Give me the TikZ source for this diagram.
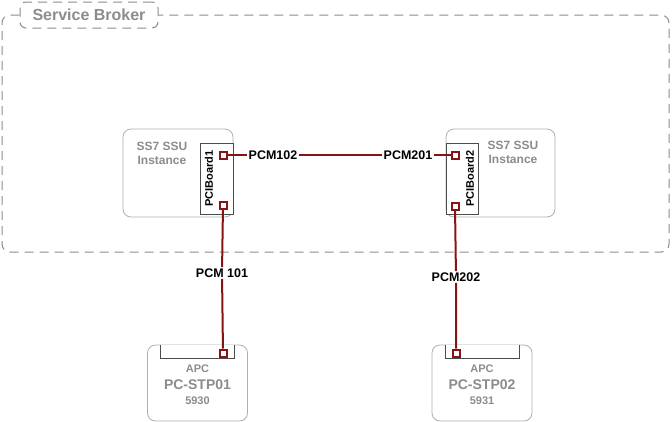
\documentclass[tikz,border=0pt]{standalone}
\usepackage{fontspec}
\setmainfont{Liberation Sans}
\definecolor{pcmred}{RGB}{135,20,20}
\definecolor{boxgray}{RGB}{175,175,175}
\definecolor{txtgray}{RGB}{140,140,140}
\tikzset{
  unit/.style={draw=boxgray,line width=.8pt,rounded corners=8pt,fill=white},
  board/.style={draw=black!70,line width=.8pt,fill=white},
  port/.style={draw=pcmred,line width=2pt,fill=white,minimum size=7pt,inner sep=0pt},
  link/.style={draw=pcmred,line width=2pt},
  pcm/.style={font=\bfseries\fontsize{12.5}{14}\selectfont,inner sep=1pt},
  gtext/.style={text=txtgray,font=\bfseries\fontsize{12}{14}\selectfont,align=center}
}
\begin{document}
\begin{tikzpicture}[x=1pt,y=-1pt,line width=1pt]
\useasboundingbox (0,0) rectangle (672,421);
% service broker frame
\node[draw=txtgray,dashed,dash pattern=on 9pt off 6pt,rounded corners=6pt,minimum width=138pt,minimum height=26pt,text=txtgray,font=\bfseries\fontsize{16}{18}\selectfont] (sb) at (89,15) {Service Broker};
\draw[txtgray,dash pattern=on 9pt off 6pt,rounded corners=8pt] (sb.west) -- (2,15) -- (2,252) -- (669,252) -- (669,15) -- (sb.east);
% SS7 SSU instances
\node[unit,minimum width=110pt,minimum height=88pt] (ssu1) at (178,173) {};
\node[unit,minimum width=109pt,minimum height=88pt] (ssu2) at (500.5,173) {};
\node[gtext] (t1) at (162,153) {SS7 SSU\\Instance};
\node[gtext] (t2) at (513,152) {SS7 SSU\\Instance};
\node[board,minimum width=33pt,minimum height=71pt] (b1) at (216.5,178.5) {};
\node[board,minimum width=32pt,minimum height=71pt] (b2) at (462,178.5) {};
\node[rotate=90,font=\bfseries\fontsize{11}{13}\selectfont] at (209,178.5) {PCIBoard1};
\node[rotate=90,font=\bfseries\fontsize{11}{13}\selectfont] at (470,178.5) {PCIBoard2};
% APC units
\foreach \n/\x/\c/\pc in {a1/197.5/5930/PC-STP01,a2/482/5931/PC-STP02}{
  \node[unit,minimum width=100pt,minimum height=76pt] (\n) at (\x,383) {};
  \draw[black!70,line width=.8pt,fill=white] (\x-37,345) -- (\x-37,358) -- (\x+37,358) -- (\x+37,345);
  \node[text=txtgray,font=\bfseries\fontsize{11}{13}\selectfont] at (\x,369) {APC};
  \node[text=txtgray,font=\bfseries\fontsize{14}{16}\selectfont] at (\x,385) {\pc};
  \node[text=txtgray,font=\bfseries\fontsize{11}{13}\selectfont] at (\x,401) {\c};
}
% ports
\node[port] (p1a) at (223,155) {};
\node[port] (p1b) at (223,205) {};
\node[port] (p2a) at (455,155) {};
\node[port] (p2b) at (455,206) {};
\node[port] (q1) at (223,353) {};
\node[port] (q2) at (456,353) {};
% PCM links
\node[pcm] (l102) at (273,155) {PCM102};
\node[pcm] (l201) at (408,155) {PCM201};
\node[pcm] (l101) at (222,273) {PCM 101};
\node[pcm] (l202) at (456,277) {PCM202};
\draw[link] (p1a) -- (l102) -- (l201) -- (p2a);
\draw[link] (p1b) -- (l101) -- (q1);
\draw[link] (p2b) -- (l202) -- (q2);
\end{tikzpicture}
\end{document}
